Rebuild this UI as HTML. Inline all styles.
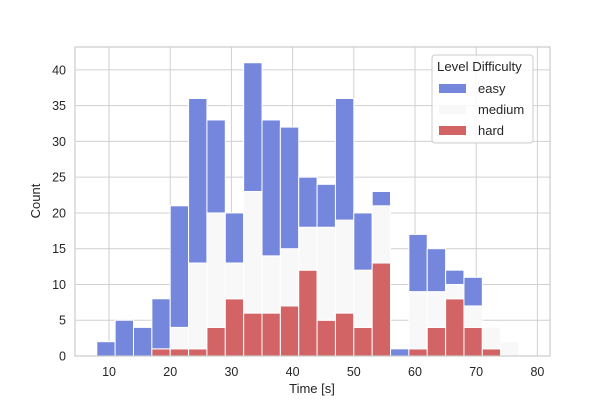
<!DOCTYPE html>
<html><head><meta charset="utf-8"><style>
body{margin:0;background:#fff;}
svg text{font-family:"Liberation Sans",Arial,sans-serif;fill:#262626;}
</style></head><body>
<svg id="chart" width="600" height="400">
<rect width="600" height="400" fill="#fff"/>
<g id="grid"></g><g id="bars"></g><g id="axes"></g>
<g id="legend">
<rect x="432" y="55" width="101" height="88" rx="3" fill="#fff" fill-opacity="0.85" stroke="#ccc"/>
<text x="437" y="71" font-size="13.2">Level Difficulty</text>
<rect x="439" y="84" width="27" height="9" fill="#7487dd"/>
<text x="478" y="93" font-size="13">easy</text>
<rect x="439" y="105" width="27" height="9" fill="#f8f8f8"/>
<text x="478" y="114" font-size="13">medium</text>
<rect x="439" y="126" width="27" height="9" fill="#d36465"/>
<text x="478" y="135" font-size="13">hard</text>
</g>
<text x="312" y="393" font-size="13" text-anchor="middle">Time [s]</text>
<text transform="translate(40,201) rotate(-90)" font-size="13" text-anchor="middle">Count</text>
</svg>
<script>
const binStart = 8;
const binWidth = 3;
const hard   = [0,0,0,1,1,1,4,8,6,6,7,12,5,6,4,13,0,1,4,8,4,1,0];
const medium = [0,0,0,0,3,12,16,5,17,8,8,6,13,13,8,8,0,8,5,2,3,3,2];
const easy   = [2,5,4,7,17,23,13,7,18,19,17,7,6,17,8,2,1,8,6,2,4,0,0];
const xTicks = [10,20,30,40,50,60,70,80];
const yTicks = [0,5,10,15,20,25,30,35,40];

const L=75,R=550,T=47,B=356;
const xmin=4.44,xmax=82.06,ymax=43.2;
const xs=v=>L+(v-xmin)/(xmax-xmin)*(R-L);
const ys=v=>B-v/ymax*(B-T);
const NS="http://www.w3.org/2000/svg";
function mk(tag,attrs,parent){const e=document.createElementNS(NS,tag);for(const k in attrs)e.setAttribute(k,attrs[k]);parent.appendChild(e);return e;}
const grid=document.getElementById('grid'),bars=document.getElementById('bars'),axes=document.getElementById('axes');
xTicks.forEach(t=>{
  const l=mk('line',{x1:xs(t),x2:xs(t),y1:T,y2:B,stroke:'#d0d0d0','stroke-width':1},grid);
  
  
  const tx=mk('text',{x:xs(t),y:B+20,'font-size':12.5,'text-anchor':'middle'},axes);
  tx.textContent=t;
  
  
});
yTicks.forEach(t=>{
  const l=mk('line',{x1:L,x2:R,y1:ys(t),y2:ys(t),stroke:'#d0d0d0','stroke-width':1},grid);
  
  
  const tx=mk('text',{x:L-9,y:ys(t)+4.5,'font-size':12.5,'text-anchor':'end'},axes);
  tx.textContent=t;
  
  
});
const series=[['hard',hard,'#d36465'],['medium',medium,'#f8f8f8'],['easy',easy,'#7487dd']];
for(let i=0;i<hard.length;i++){
  let base=0;
  const x0=xs(binStart+i*binWidth),x1=xs(binStart+(i+1)*binWidth);
  series.forEach(([name,arr,col])=>{
    const v=arr[i];
    if(v>0){
      const r=mk('rect',{x:x0,y:ys(base+v),width:x1-x0,height:ys(base)-ys(base+v),fill:col,stroke:'#fff','stroke-width':1},bars);
      
      
    }
    base+=v;
  });
}
const f=mk('rect',{x:L,y:T,width:R-L,height:B-T,fill:'none',stroke:'#ccc','stroke-width':1.2},axes);


</script>
</body></html>
